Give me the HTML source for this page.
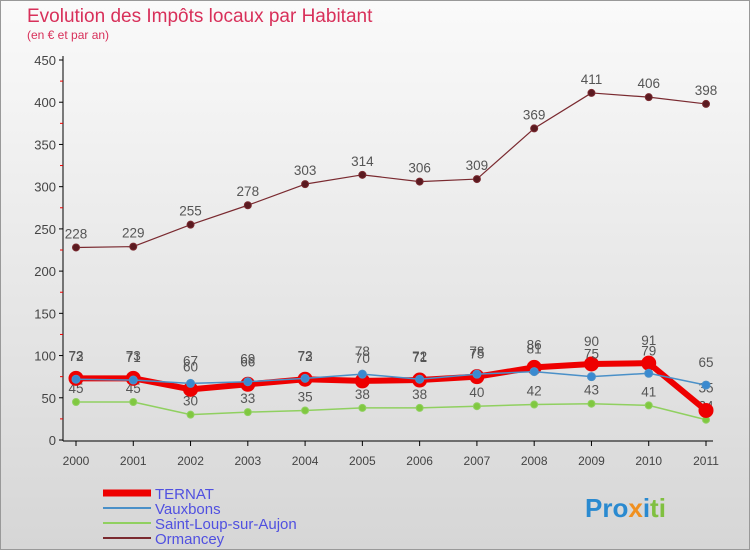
<!DOCTYPE html>
<html><head><meta charset="utf-8"><style>
body{margin:0;width:750px;height:550px;overflow:hidden;font-family:"Liberation Sans",sans-serif}
#wrap{position:relative;width:748px;height:548px;border:1px solid #999;background:linear-gradient(#fafafa,#d6d6d6)}
</style></head><body>
<div id="wrap">
<svg id="chart" width="748" height="548" xmlns="http://www.w3.org/2000/svg">
<text x="26" y="21" font-size="19" fill="#d8305a">Evolution des Impôts locaux par Habitant</text>
<text x="26" y="38" font-size="12" fill="#d8305a">(en € et par an)</text>
<g id="axes"></g><g id="series"></g><g id="legend"></g>
<text x="584" y="516" font-size="26" font-weight="bold" fill="#2a8ad0">Pro<tspan fill="#f09020">x</tspan><tspan fill="#2a8ad0">i</tspan><tspan fill="#80c040">ti</tspan></text>
</svg></div>
<script>
const years=["2000","2001","2002","2003","2004","2005","2006","2007","2008","2009","2010","2011"];
const yTicks=[0,50,100,150,200,250,300,350,400,450];
const ternat=[73,73,60,66,72,70,71,75,86,90,91,35];
const vauxbons=[72,71,67,69,73,78,72,78,81,75,79,65];
const saintLoup=[45,45,30,33,35,38,38,40,42,43,41,24];
const ormancey=[228,229,255,278,303,314,306,309,369,411,406,398];
const NS="http://www.w3.org/2000/svg";
const x=i=>75+i*(630/(years.length-1));
const y=v=>439-v*(380/450);
function mk(t,a,p){const e=document.createElementNS(NS,t);for(const k in a)e.setAttribute(k,a[k]);p.appendChild(e);return e;}
const ax=document.getElementById('axes');
let l=mk('line',{x1:62,y1:55,x2:62,y2:440,stroke:'#000'},ax);

l=mk('line',{x1:62,y1:440,x2:712,y2:440,stroke:'#000'},ax);

yTicks.forEach(v=>{mk('line',{x1:58,y1:y(v),x2:62,y2:y(v),stroke:'#000'},ax);
 if(v<450)mk('line',{x1:59,y1:y(v+25),x2:62,y2:y(v+25),stroke:'#e00'},ax);
 const t=mk('text',{x:55,y:y(v)+5,'font-size':13,'text-anchor':'end',fill:'#444'},ax);t.textContent=v;
 });
years.forEach((yr,i)=>{mk('line',{x1:x(i),y1:440,x2:x(i),y2:445,stroke:'#000'},ax);
 const t=mk('text',{x:x(i),y:464,'font-size':12,'text-anchor':'middle',fill:'#444'},ax);t.textContent=yr;
 });
const sg=document.getElementById('series');
function draw(name,data,color,w,r,fill,labelDy){
 const g=mk('g',{},sg);
 const p=mk('polyline',{points:data.map((v,i)=>x(i)+','+y(v)).join(' '),fill:'none',stroke:color,'stroke-width':w,'stroke-linejoin':'round'},g);
 
 data.forEach((v,i)=>{const c=mk('circle',{cx:x(i),cy:y(v),r:r,fill:fill,stroke:color,'stroke-width':1},g);
  
  const t=mk('text',{x:x(i),y:y(v)+labelDy,'font-size':13.5,'text-anchor':'middle',fill:'#555'},g);t.textContent=v;
  });
}
draw('ormancey',ormancey,'#7a2a30',1.2,3.5,'#5a1a20',-9);
draw('saint-loup',saintLoup,'#90d060',1.5,3.5,'#80c840',-9);
draw('ternat',ternat,'#ee0000',6,7,'#ee0000',-18);
draw('vauxbons',vauxbons,'#4a90c8',1.5,4,'#3a8ad0',-18);
const lg=document.getElementById('legend');
const leg=[['TERNAT','#ee0000',7],['Vauxbons','#4a90c8',2],['Saint-Loup-sur-Aujon','#90d060',2],['Ormancey','#7a2a30',2]];
leg.forEach((d,i)=>{const yy=492+i*15;
 const g=mk('g',{},lg);
 mk('line',{x1:102,y1:yy,x2:150,y2:yy,stroke:d[1],'stroke-width':d[2]},g);
 const t=mk('text',{x:154,y:yy+6,'font-size':15,fill:'#5050e0'},g);t.textContent=d[0];});
</script></body></html>
